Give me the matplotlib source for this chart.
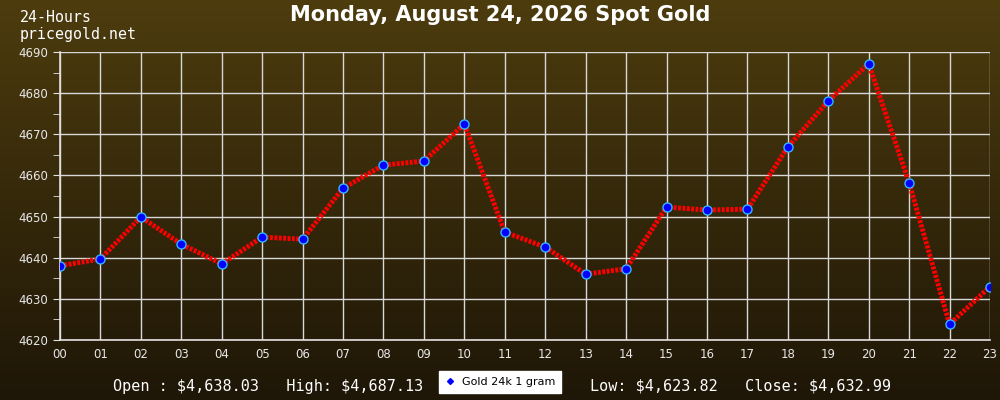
import matplotlib
matplotlib.use("Agg")
import matplotlib.pyplot as plt
from matplotlib.lines import Line2D
from matplotlib.ticker import MultipleLocator
import numpy as np

hours = ["00", "01", "02", "03", "04", "05", "06", "07", "08", "09", "10", "11",
         "12", "13", "14", "15", "16", "17", "18", "19", "20", "21", "22", "23"]
prices = [4638.03, 4639.7, 4649.9, 4643.3, 4638.5, 4645.0, 4644.5, 4656.9,
          4662.5, 4663.5, 4672.5, 4646.2, 4642.6, 4636.0, 4637.3, 4652.3,
          4651.6, 4651.8, 4666.9, 4678.1, 4687.13, 4658.2, 4623.82, 4632.99]

title = "Monday, August 24, 2026 Spot Gold"
open_txt = r"Open : \$4,638.03   High: \$4,687.13"
close_txt = r"Low: \$4,623.82   Close: \$4,632.99"

fig = plt.figure(figsize=(10, 4), dpi=100)

# background gradient, olive brown at the top to near black at the bottom
bg = fig.add_axes([0, 0, 1, 1], zorder=-10)
top = np.array([0x4d, 0x3c, 0x0e]) / 255
bot = np.array([0x1e, 0x16, 0x07]) / 255
t = np.linspace(0, 1, 256)[:, None]
grad = top * (1 - t) + bot * t
bg.imshow(grad[:, None, :].repeat(2, axis=1), aspect="auto", extent=[0, 1, 0, 1])
bg.axis("off")

ax = fig.add_axes([0.06, 0.15, 0.93, 0.72])
ax.patch.set_alpha(0)
x = np.arange(len(hours))
ax.plot(x, prices, color="red", lw=3.5, ls=(0, (0.6, 0.3)), zorder=3)
ax.plot(x, prices, ls="none", marker="o", ms=6.5, mfc="#0000ff", mec="#33b5ff",
        mew=1.0, zorder=4)

ax.set_xlim(0, 23)
ax.set_ylim(4620, 4690)
ax.set_xticks(x)
ax.set_xticklabels(hours)
ax.yaxis.set_major_locator(MultipleLocator(10))
ax.yaxis.set_minor_locator(MultipleLocator(5))
ax.grid(True, which="major", color="#d8d8d8", lw=1.0)
for s in ["top", "right"]:
    ax.spines[s].set_visible(False)
for s in ["left", "bottom"]:
    ax.spines[s].set_color("#e0e0e0")
    ax.spines[s].set_linewidth(1.2)
ax.tick_params(axis="y", which="both", colors="#e0e0e0", labelsize=8.5, length=5,
               labelcolor="#e8e8e8")
ax.tick_params(axis="x", length=0, pad=6, labelsize=8.5, labelcolor="#e8e8e8")

fig.text(0.5, 0.962, title, ha="center", va="center", color="white",
         fontsize=15, fontweight="bold", family="DejaVu Sans")
fig.text(0.02, 0.955, "24-Hours", ha="left", va="center", color="white",
         fontsize=10.7, family="DejaVu Sans Mono")
fig.text(0.02, 0.915, "pricegold.net", ha="left", va="center", color="white",
         fontsize=10.7, family="DejaVu Sans Mono")
fig.text(0.113, 0.035, open_txt, ha="left", va="center", color="white",
         fontsize=10.9, family="DejaVu Sans Mono")
fig.text(0.59, 0.035, close_txt, ha="left", va="center", color="white",
         fontsize=10.9, family="DejaVu Sans Mono")

handle = Line2D([], [], ls="none", marker="D", ms=3, color="#0000ff")
leg = fig.legend([handle], ["Gold 24k 1 gram"], loc="center",
                 bbox_to_anchor=(0.5, 0.045), frameon=True, fancybox=False,
                 fontsize=8, handlelength=1, handletextpad=0.6,
                 borderpad=0.5, edgecolor="white", facecolor="white", framealpha=1)

fig.savefig("out.png", dpi=100)
